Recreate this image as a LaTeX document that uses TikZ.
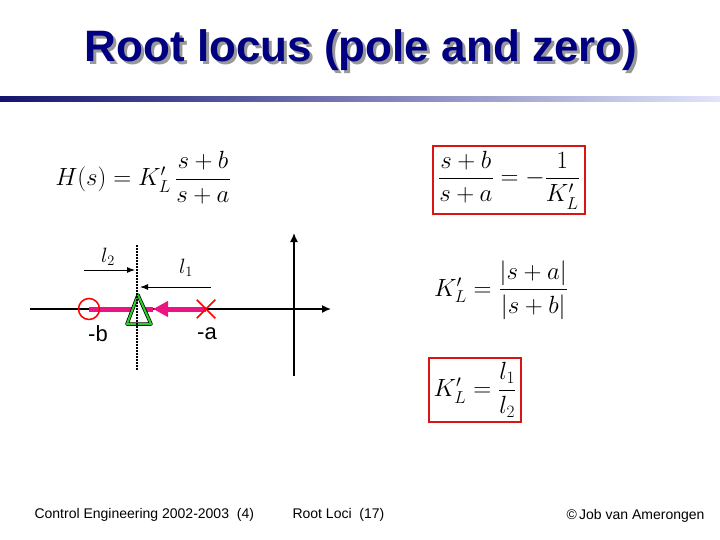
\documentclass[tikz,border=0pt]{standalone}
\usepackage{fontspec}
\usepackage{amsmath}
\setmainfont{Liberation Sans}
\usetikzlibrary{arrows.meta,shapes.misc}
\definecolor{titleblue}{RGB}{0,0,128}
\definecolor{barleft}{RGB}{20,20,110}
\definecolor{barright}{RGB}{225,228,250}
\definecolor{locuspink}{RGB}{235,20,130}
\definecolor{trigreen}{RGB}{40,210,40}
\definecolor{boxred}{RGB}{220,20,20}
\newcommand{\shadowtext}[1]{\makebox[0pt][l]{\hspace{3pt}\raisebox{-3pt}{\color{black!40}#1}}#1}

\begin{document}
\begin{tikzpicture}[x=1pt, y=-1pt,
  eq/.style={font=\fontsize{24}{28}\selectfont},
  redbox/.style={draw=boxred, line width=2pt, inner sep=5pt},
  lab/.style={font=\fontsize{22}{26}\selectfont},
  foot/.style={font=\fontsize{14}{16}\selectfont, anchor=west},
  axis/.style={line width=1.5pt, -{Latex[length=9pt,width=8pt]}},
  dim/.style={line width=1pt, -{Latex[length=8pt,width=6pt]}},
  locus/.style={locuspink, line width=5pt}]

\useasboundingbox (0,0) rectangle (720,540);

% title
\node[font=\fontsize{44}{48}\selectfont\bfseries, text=titleblue] (title) at (361,52) {\shadowtext{Root locus (pole and zero)}};
\shade[left color=barleft, right color=barright] (0,97) rectangle (720,102);

% equations
\node[eq, font=\fontsize{27}{30}\selectfont] (hs) at (143,178) {$H(s)=K_L'\,\dfrac{s+b}{s+a}$};
\node[eq, redbox] (eqa) at (509,180) {$\dfrac{s+b}{s+a}=-\dfrac{1}{K_L'}$};
\node[eq] (eqb) at (501,290) {$K_L'=\dfrac{|s+a|}{|s+b|}$};
\node[eq, redbox] (eqc) at (475,390) {$K_L'=\dfrac{l_1}{l_2}$};

% s-plane
\coordinate (xl) at (30,309);
\coordinate (xr) at (331,309);
\coordinate (yd) at (294,376);
\coordinate (yu) at (294,233);
\draw[axis] (xl) -- (xr);
\draw[axis] (yd) -- (yu);

\coordinate (zero) at (89,309);
\coordinate (pole) at (206,309);
\coordinate (tip) at (153,309);
\draw[locus] (tip) -- (zero);
\draw[locus, -{Triangle[length=15pt,width=15pt]}] (pole) -- (tip);
\node[circle, draw=red, line width=1.5pt, minimum size=21pt, inner sep=0pt] (zc) at (zero) {};
\node[cross out, draw=red, line width=1.5pt, minimum size=17pt, inner sep=0pt] (px) at (pole) {};

% breakaway point
\draw[black, line width=3.5pt, line join=round, fill=white] (138,295) -- (151,324) -- (127,324) -- cycle;
\draw[trigreen, line width=2pt, line join=round] (138,295) -- (151,324) -- (127,324) -- cycle;
\coordinate (dt) at (137,245);
\coordinate (db) at (137,370);
\draw[line width=1.5pt, dash pattern=on 1.5pt off 1.5pt] (dt) -- (db);

% distances
\node[lab] (l2) at (108,257) {$l_2$};
\node[lab] (l1) at (186,268) {$l_1$};
\coordinate (a2s) at (84,270);
\coordinate (a2e) at (135,270);
\coordinate (a1s) at (211,287);
\coordinate (a1e) at (140,287);
\draw[dim] (a2s) -- (a2e);
\draw[dim] (a1s) -- (a1e);
\node[lab] (mb) at (98,334) {-b};
\node[lab] (ma) at (207,334) {-a};

% footer
\node[foot] (f1) at (31,515) {Control Engineering 2002-2003\ \ (4)};
\node[foot] (f2) at (289,515) {Root Loci\ \ (17)};
\node[foot] (f3) at (563,516) {\copyright\,Job van Amerongen};
\end{tikzpicture}
\end{document}
